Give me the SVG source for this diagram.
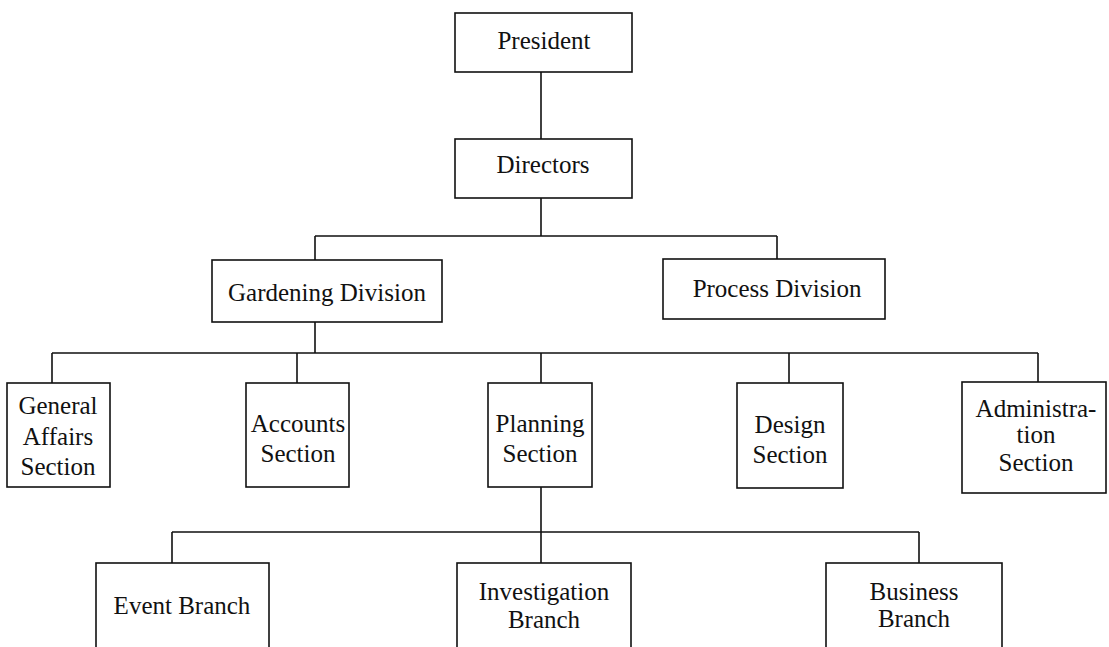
<svg xmlns="http://www.w3.org/2000/svg" width="1109" height="647" viewBox="0 0 1109 647">
<style>
.box{fill:#fff;stroke:#111;stroke-width:1.6}
.ln{fill:none;stroke:#111;stroke-width:1.6}
text{font-family:"Liberation Serif","Times New Roman",serif;font-size:25px;fill:#111;text-anchor:middle}
</style>
<rect width="1109" height="647" fill="#fff"/>
<g id="connectors">
<path class="ln" d="M541 72V139"/>
<path class="ln" d="M541 198V236M315 236H777M315 236V260M777 236V259"/>
<path class="ln" d="M315 322V353M52 353H1038M52 353V383M297 353V383M541 353V383M789 353V383M1038 353V382"/>
<path class="ln" d="M541 487V532M172 532H919M172 532V563M541 532V563M919 532V563"/>
</g>
<g id="president"><rect class="box" x="455" y="13" width="177" height="59"/><text x="544" y="49">President</text></g>
<g id="directors"><rect class="box" x="455" y="139" width="177" height="59"/><text x="543" y="173">Directors</text></g>
<g id="gardening"><rect class="box" x="212" y="260" width="230" height="62"/><text x="327" y="301">Gardening Division</text></g>
<g id="process"><rect class="box" x="663" y="259" width="222" height="60"/><text x="777" y="297">Process Division</text></g>
<g id="general-affairs"><rect class="box" x="7" y="383" width="103" height="104"/><text x="58" y="414">General</text><text x="58" y="445">Affairs</text><text x="58" y="475">Section</text></g>
<g id="accounts"><rect class="box" x="246" y="383" width="103" height="104"/><text x="298" y="432">Accounts</text><text x="298" y="462">Section</text></g>
<g id="planning"><rect class="box" x="488" y="383" width="104" height="104"/><text x="540" y="432">Planning</text><text x="540" y="462">Section</text></g>
<g id="design"><rect class="box" x="737" y="383" width="106" height="105"/><text x="790" y="433">Design</text><text x="790" y="463">Section</text></g>
<g id="administration"><rect class="box" x="962" y="382" width="144" height="111"/><text x="1036" y="417">Administra-</text><text x="1036" y="443">tion</text><text x="1036" y="471">Section</text></g>
<g id="event"><rect class="box" x="96" y="563" width="173" height="100"/><text x="182" y="614">Event Branch</text></g>
<g id="investigation"><rect class="box" x="457" y="563" width="174" height="100"/><text x="544" y="600">Investigation</text><text x="544" y="628">Branch</text></g>
<g id="business"><rect class="box" x="826" y="563" width="176" height="100"/><text x="914" y="600">Business</text><text x="914" y="627">Branch</text></g>
</svg>
